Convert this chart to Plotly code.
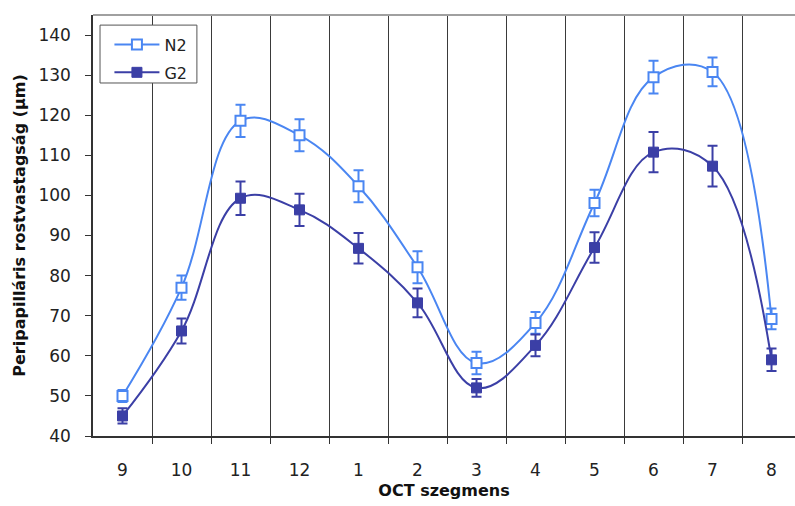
import plotly.graph_objects as go

# OCT segments (clock hours) around the optic disc
segments = ["9", "10", "11", "12", "1", "2", "3", "4", "5", "6", "7", "8"]

# Mean peripapillary RNFL thickness (µm) and error bar half-widths
n2_mean = [50.0, 77.0, 118.6, 115.0, 102.3, 82.1, 58.2, 68.2, 98.1, 129.5, 130.8, 69.2]
n2_err = [1.5, 3.0, 4.0, 4.0, 4.0, 4.0, 2.8, 2.7, 3.3, 4.1, 3.6, 2.6]

g2_mean = [45.0, 66.2, 99.3, 96.4, 86.8, 73.2, 52.0, 62.6, 87.0, 110.8, 107.3, 59.0]
g2_err = [1.9, 3.1, 4.2, 4.0, 3.8, 3.6, 2.2, 2.7, 3.8, 5.0, 5.1, 2.8]

N2_COLOR = "#4a86f2"
G2_COLOR = "#3b3fa6"
FONT = "DejaVu Sans"

xpos = list(range(len(segments)))

fig = go.Figure()
fig.add_trace(go.Scatter(
    x=xpos, y=n2_mean, name="N2", legendgroup="n2", mode="lines+markers",
    line=dict(color=N2_COLOR, width=2, shape="spline", smoothing=1.1),
    marker=dict(symbol="square", size=10, color="white",
                line=dict(color=N2_COLOR, width=2)),
    error_y=dict(type="data", array=n2_err, visible=True,
                 color=N2_COLOR, thickness=2, width=5),
))
fig.add_trace(go.Scatter(
    x=xpos, y=g2_mean, name="G2", legendgroup="g2", mode="lines+markers",
    line=dict(color=G2_COLOR, width=2, shape="spline", smoothing=1.1),
    marker=dict(symbol="square", size=10, color=G2_COLOR,
                line=dict(color=G2_COLOR, width=1)),
    error_y=dict(type="data", array=g2_err, visible=True,
                 color=G2_COLOR, thickness=2, width=5),
))

boundaries = [i + 0.5 for i in range(len(segments))]

fig.update_layout(
    width=795, height=506,
    margin=dict(l=93, r=0, t=15, b=70),
    paper_bgcolor="white", plot_bgcolor="white",
    font=dict(family=FONT, size=17, color="#222222"),
    showlegend=True,
    legend=dict(
        x=0.0234, y=0.97, xanchor="left", yanchor="top",
        bgcolor="rgba(0,0,0,0)", borderwidth=0,
        font=dict(family=FONT, size=16, color="#222222"),
        itemwidth=45, tracegroupgap=4,
    ),
    shapes=[
        # top frame edge
        dict(type="line", xref="paper", yref="paper",
             x0=0, x1=1, y0=1, y1=1,
             line=dict(color="#a0a0a0", width=2)),
        # legend box
        dict(type="rect", xref="paper", yref="paper", layer="above",
             x0=0.01, x1=0.148, y0=0.8385, y1=0.976,
             fillcolor="white", line=dict(color="#555555", width=1)),
    ],
)

fig.update_xaxes(
    range=[-0.5, 11.398],
    tickmode="array", tickvals=xpos, ticktext=segments,
    ticks="", showgrid=False, zeroline=False,
    showline=True, linecolor="#333333", linewidth=1.5,
    ticklabelstandoff=18,
    title=dict(text="<b>OCT szegmens</b>", font=dict(family=FONT, size=16, color="#111111"),
               standoff=6),
    minor=dict(tickmode="array", tickvals=boundaries, showgrid=True,
               gridcolor="#3a3a3a", gridwidth=1, ticks="outside",
               ticklen=6, tickcolor="#333333"),
)
fig.update_yaxes(
    range=[40, 145],
    tickmode="array", tickvals=list(range(40, 141, 10)),
    ticks="outside", ticklen=6, tickcolor="#333333",
    showgrid=False, zeroline=False,
    showline=True, linecolor="#333333", linewidth=1.5,
    ticklabelstandoff=11,
    title=dict(text="<b>Peripapilláris rostvastagság (µm)</b>",
               font=dict(family=FONT, size=16, color="#111111"), standoff=9),
)

fig.write_html("out.html")
